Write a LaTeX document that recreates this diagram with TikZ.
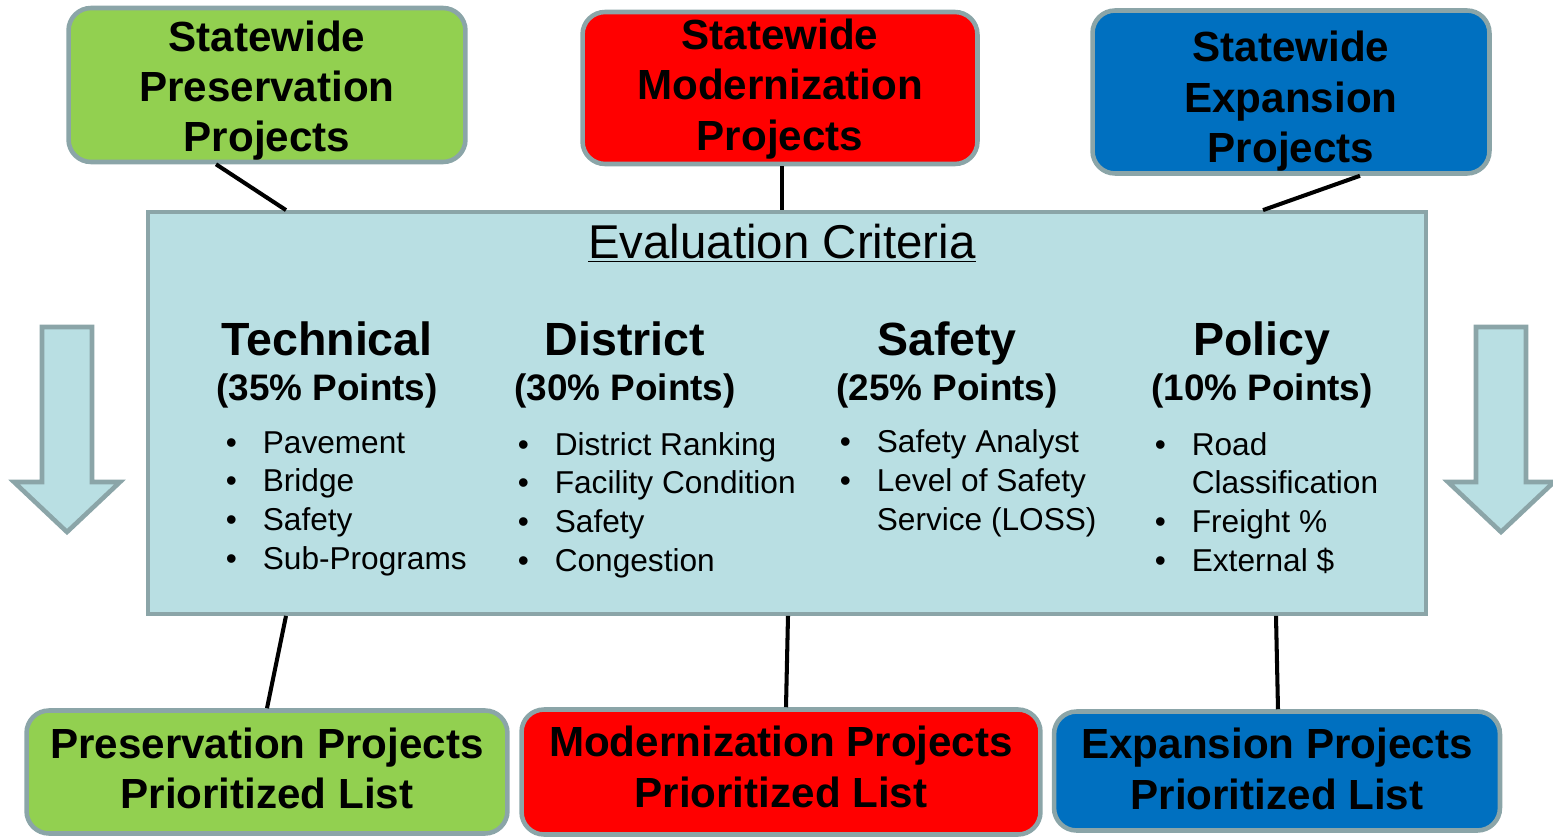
\documentclass[tikz,border=0pt]{standalone}
\usepackage{fontspec}
\setmainfont{Liberation Sans}
\usetikzlibrary{positioning}

\definecolor{presgreen}{HTML}{92D050}
\definecolor{modred}{HTML}{FF0000}
\definecolor{expblue}{HTML}{0070C0}
\definecolor{critfill}{HTML}{B9DFE3}
\definecolor{edgegray}{HTML}{8BA5A8}

\newcommand{\bul}{\makebox[0.74cm][l]{•}}
\newcommand{\nobul}{\hspace*{0.74cm}}
\newcommand{\projtext}[2]{\raisebox{#1}[\height][\depth]{\begin{tabular}{@{}c@{}}#2\end{tabular}}}

\tikzset{
	projbox/.style={draw=edgegray,line width=2.6pt,rounded corners=0.45cm,align=center,inner sep=0pt,
		font=\fontsize{24}{28.5}\selectfont\bfseries},
	critbox/.style={draw=edgegray,line width=2.2pt,fill=critfill,inner sep=0pt},
	link/.style={line width=2.3pt},
	colhead/.style={anchor=base,font=\fontsize{26.5}{30}\selectfont\bfseries},
	colpts/.style={anchor=base,font=\fontsize{21}{25}\selectfont\bfseries},
	critlist/.style={anchor=base west,align=left,inner sep=0pt,font=\fontsize{18}{22}\selectfont},
	downarrow/.style={draw=edgegray,line width=2.6pt,fill=critfill}
}

\begin{document}
\begin{tikzpicture}[x=0.02cm,y=-0.02cm]
	\useasboundingbox (0,0) rectangle (1553,838);

	\node[critbox,minimum width=25.56cm,minimum height=8.04cm] (crit) at (787,413) {};
	\node[anchor=base,font=\fontsize{27}{32}\selectfont] (crittitle) at (782,258) {\underline{Evaluation Criteria}};

	\node[projbox,fill=presgreen,minimum width=7.94cm,minimum height=3.08cm] (prestop) at (267,85) {\projtext{-3.7pt}{Statewide\\Preservation\\Projects}};
	\node[projbox,fill=modred,minimum width=7.9cm,minimum height=3.04cm] (modtop) at (780,88) {\projtext{-1.1pt}{Statewide\\Modernization\\Projects}};
	\node[projbox,fill=expblue,minimum width=7.94cm,minimum height=3.26cm] (exptop) at (1291,92) {\projtext{-5.7pt}{Statewide\\Expansion\\Projects}};

	\node[projbox,fill=presgreen,minimum width=9.62cm,minimum height=2.46cm] (preslist) at (267,772) {\projtext{-1.1pt}{Preservation Projects\\Prioritized List}};
	\node[projbox,fill=modred,minimum width=10.38cm,minimum height=2.5cm] (modlist) at (781,772) {\projtext{0pt}{Modernization Projects\\Prioritized List}};
	\node[projbox,fill=expblue,minimum width=8.92cm,minimum height=2.38cm] (explist) at (1277,771) {\projtext{-1.7pt}{Expansion Projects\\Prioritized List}};

	\foreach \cx/\head/\pts in {327/Technical/35,625/District/30,947/Safety/25,1262/Policy/10} {
		\node[colhead] (head-\head) at (\cx,355) {\head};
		\node[colpts] (pts-\head) at (\cx,400) {(\pts\% Points)};
	}

	\node[critlist] (list-tech) at (225.5,569) {\bul Pavement\\\bul Bridge\\\bul Safety\\\bul Sub-Programs};
	\node[critlist] (list-dist) at (517.5,571) {\bul District Ranking\\\bul Facility Condition\\\bul Safety\\\bul Congestion};
	\node[critlist] (list-safe) at (839.5,530) {\bul Safety Analyst\\\bul Level of Safety\\\nobul Service (LOSS)};
	\node[critlist] (list-pol) at (1154.5,571) {\bul Road\\\nobul Classification\\\bul Freight \%\\\bul External \$};

	\draw[link] (216,0 |- prestop.south) -- (286,0 |- crit.north);
	\draw[link] (782,0 |- modtop.south) -- (782,0 |- crit.north);
	\draw[link] (1360,0 |- exptop.south) -- (1263,0 |- crit.north);
	\draw[link] (286,0 |- crit.south) -- (267,0 |- preslist.north);
	\draw[link] (788,0 |- crit.south) -- (786,0 |- modlist.north);
	\draw[link] (1276,0 |- crit.south) -- (1278,0 |- explist.north);

	\draw[downarrow] (42,327) -- (92,327) -- (92,482) -- (120,482) -- (67,532) -- (14,482) -- (42,482) -- cycle;
	\draw[downarrow] (1476,327) -- (1526,327) -- (1526,482) -- (1554,482) -- (1501,532) -- (1448,482) -- (1476,482) -- cycle;
\end{tikzpicture}
\end{document}
